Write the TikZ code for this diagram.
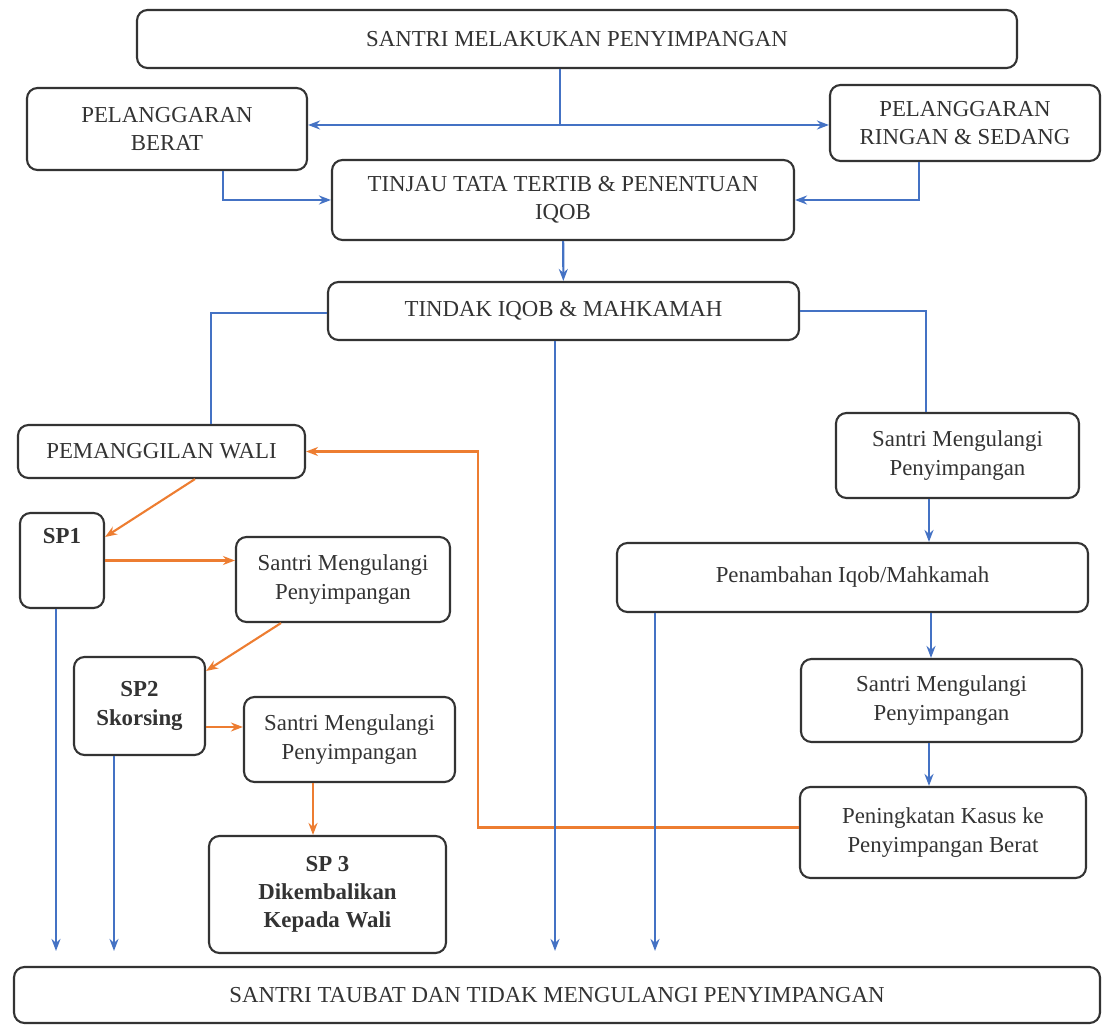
\documentclass[tikz,border=0pt]{standalone}
\usepackage{fontspec}
\setmainfont{Liberation Serif}
\usetikzlibrary{positioning, arrows, arrows.meta}
\definecolor{flowblue}{RGB}{68,114,196}
\definecolor{floworange}{RGB}{237,125,49}

\begin{document}
\begin{tikzpicture}[
		>={Stealth[length=2.4mm, width=1.8mm]},
		box/.style={draw=black!80, line width=1.2pt, rectangle, rounded corners=6pt, fill=white, align=center, text=black!80, font=\fontsize{13}{16}\selectfont},
		boldbox/.style={box, font=\fontsize{13}{16}\selectfont\bfseries},
		blueline/.style={draw=flowblue, line width=1.2pt},
		bluearrow/.style={blueline, ->},
		orangearrow/.style={draw=floworange, line width=1.2pt, ->},
		tobottom/.style={bluearrow, shorten >=0.3cm},
	]
	\useasboundingbox (0,0) rectangle (22.04,-20.5);

	\node[box, minimum width=17.6cm, minimum height=1.16cm] (start) at (11.54, -0.78) {SANTRI MELAKUKAN PENYIMPANGAN};
	\node[box, minimum width=5.6cm, minimum height=1.64cm] (berat) at (3.34, -2.58) {PELANGGARAN\\BERAT};
	\node[box, minimum width=5.4cm, minimum height=1.52cm] (ringan) at (19.3, -2.46) {PELANGGARAN\\RINGAN \& SEDANG};
	\node[box, minimum width=9.24cm, minimum height=1.6cm] (tinjau) at (11.26, -4.0) {TINJAU TATA TERTIB \& PENENTUAN\\IQOB};
	\node[box, minimum width=9.42cm, minimum height=1.16cm] (tindak) at (11.27, -6.22) {TINDAK IQOB \& MAHKAMAH};
	\node[box, minimum width=5.74cm, minimum height=1.06cm] (wali) at (3.23, -9.03) {PEMANGGILAN WALI};
	\node[box, minimum width=4.86cm, minimum height=1.7cm] (ulang_r1) at (19.15, -9.11) {Santri Mengulangi\\Penyimpangan};
	\node[box, minimum width=1.68cm, minimum height=1.9cm] (sp1) at (1.24, -11.21) {};
	\node[font=\fontsize{13}{16}\selectfont\bfseries, text=black!80, below=0.2cm of sp1.north] (sp1_text) {SP1};
	\node[box, minimum width=4.28cm, minimum height=1.7cm] (ulang_l1) at (6.86, -11.59) {Santri Mengulangi\\Penyimpangan};
	\node[box, minimum width=9.42cm, minimum height=1.38cm] (tambah) at (17.05, -11.55) {Penambahan Iqob/Mahkamah};
	\node[boldbox, minimum width=2.62cm, minimum height=1.96cm] (sp2) at (2.79, -14.12) {SP2\\Skorsing};
	\node[box, minimum width=4.22cm, minimum height=1.7cm] (ulang_l2) at (6.99, -14.79) {Santri Mengulangi\\Penyimpangan};
	\node[box, minimum width=5.62cm, minimum height=1.66cm] (ulang_r2) at (18.83, -14.01) {Santri Mengulangi\\Penyimpangan};
	\node[boldbox, minimum width=4.74cm, minimum height=2.34cm] (sp3) at (6.55, -17.89) {SP 3\\Dikembalikan\\Kepada Wali};
	\node[box, minimum width=5.72cm, minimum height=1.82cm] (tingkat) at (18.86, -16.65) {Peningkatan Kasus ke\\Penyimpangan Berat};
	\node[box, minimum width=21.72cm, minimum height=1.12cm] (taubat) at (11.14, -19.9) {SANTRI TAUBAT DAN TIDAK MENGULANGI PENYIMPANGAN};

	\draw[orangearrow] ([xshift=0.67cm]wali.south) -- ([yshift=0.47cm]sp1.east);
	\draw[orangearrow] (sp1.east) -- (sp1.east -| ulang_l1.west);
	\draw[orangearrow] ([xshift=-1.24cm]ulang_l1.south) -- ([yshift=0.7cm]sp2.east);
	\coordinate (sp2_out) at ([yshift=-0.42cm]sp2.east);
	\draw[orangearrow] (sp2_out) -- (sp2_out -| ulang_l2.west);
	\coordinate (l2_out) at ([xshift=-0.73cm]ulang_l2.south);
	\draw[orangearrow] (l2_out) -- (l2_out |- sp3.north);
	\draw[orangearrow] ([yshift=0.1cm]tingkat.west) -| ([xshift=3.44cm]wali.east) -- (wali.east);

	\coordinate (split) at (11.2, -2.5);
	\draw[blueline] (split |- start.south) -- (split);
	\draw[bluearrow] (split) -- (split -| berat.east);
	\draw[bluearrow] (split) -- (split -| ringan.west);
	\draw[bluearrow] ([xshift=1.12cm]berat.south) |- (tinjau);
	\draw[bluearrow] ([xshift=-0.92cm]ringan.south) |- (tinjau);
	\draw[bluearrow] (tinjau) -- (tindak);
	\draw[blueline] ([yshift=-0.04cm]tindak.west) -| ([xshift=0.99cm]wali.north);
	\draw[blueline] (tindak.east) -| ([xshift=-0.63cm]ulang_r1.north);

	\coordinate (r1_out) at ([xshift=-0.57cm]ulang_r1.south);
	\draw[bluearrow] (r1_out) -- (r1_out |- tambah.north);
	\coordinate (r2_in) at ([xshift=-0.21cm]ulang_r2.north);
	\draw[bluearrow] (r2_in |- tambah.south) -- (r2_in);
	\coordinate (r2_out) at ([xshift=-0.25cm]ulang_r2.south);
	\draw[bluearrow] (r2_out) -- (r2_out |- tingkat.north);

	\coordinate (drop_sp1) at ([xshift=-0.12cm]sp1.south);
	\coordinate (drop_sp2) at ([xshift=-0.51cm]sp2.south);
	\coordinate (drop_tindak) at ([xshift=-0.17cm]tindak.south);
	\coordinate (drop_tambah) at ([xshift=-3.95cm]tambah.south);
	\draw[tobottom] (drop_sp1) -- (drop_sp1 |- taubat.north);
	\draw[tobottom] (drop_sp2) -- (drop_sp2 |- taubat.north);
	\draw[tobottom] (drop_tindak) -- (drop_tindak |- taubat.north);
	\draw[tobottom] (drop_tambah) -- (drop_tambah |- taubat.north);
\end{tikzpicture}
\end{document}
